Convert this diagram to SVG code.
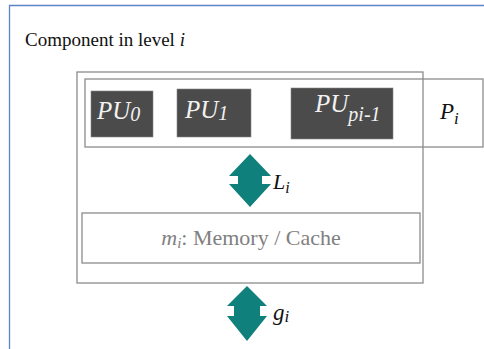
<svg xmlns="http://www.w3.org/2000/svg" width="484" height="349" viewBox="0 0 484 349" font-family="'Liberation Serif', 'Times New Roman', serif">
<style>
text{font-family:'Liberation Serif','Times New Roman',serif}
.box{fill:none;stroke:#8c8c8c;stroke-width:1.3}
.pu rect{fill:#4b4b4b;stroke:#888;stroke-width:0.6}
.pu text{fill:#f2f2f2;font-style:italic;font-size:25px}
.it{font-style:italic}
.arr{fill:#0f807b}
</style>
<rect x="0" y="0" width="484" height="349" fill="#fff"/>
<path d="M9.5,349 V5.5 H484" fill="none" stroke="#5b84c9" stroke-width="1.3"/>
<g id="title"><text x="25" y="46" font-size="19" fill="#111">Component in level <tspan class="it">i</tspan></text></g>
<g id="component"><rect class="box" x="77" y="72" width="346" height="211"/></g>
<g id="processors">
<rect class="box" x="85" y="79" width="398" height="68"/>
<text x="440" y="119" font-size="23" fill="#111" class="it">P<tspan font-size="17" dy="5">i</tspan></text>
</g>
<g id="pu0" class="pu"><rect x="91" y="91" width="62" height="46"/><text x="97" y="119">PU<tspan font-size="20" dy="2">0</tspan></text></g>
<g id="pu1" class="pu"><rect x="177" y="89" width="74" height="48"/><text x="185" y="118">PU<tspan font-size="20" dy="2">1</tspan></text></g>
<g id="pupi" class="pu"><rect x="291" y="88" width="102" height="51"/><text x="315" y="112">PU<tspan font-size="20" dy="9">pi-1</tspan></text></g>
<g id="memory"><rect class="box" x="82" y="213" width="338" height="50"/>
<text x="251" y="245" font-size="22" fill="#808080" text-anchor="middle"><tspan class="it">m</tspan><tspan class="it" font-size="15" dy="3">i</tspan><tspan dy="-3">: Memory / Cache</tspan></text></g>
<g id="connectors">
<path class="arr" d="M250,154 L271,176 L262,176 L262,184 L271,184 L250,207 L229,184 L238,184 L238,176 L229,176 Z"/>
<path class="arr" d="M247,286 L267,306 L260,306 L260,316 L267,316 L247,341 L227,316 L234,316 L234,306 L227,306 Z"/>
</g>
<g id="labels">
<text x="273" y="189" font-size="22" fill="#111" class="it">L<tspan font-size="16" dy="4">i</tspan></text>
<text x="273" y="320" font-size="23" fill="#111" class="it">g<tspan font-size="17" dy="2">i</tspan></text>
</g>
</svg>
